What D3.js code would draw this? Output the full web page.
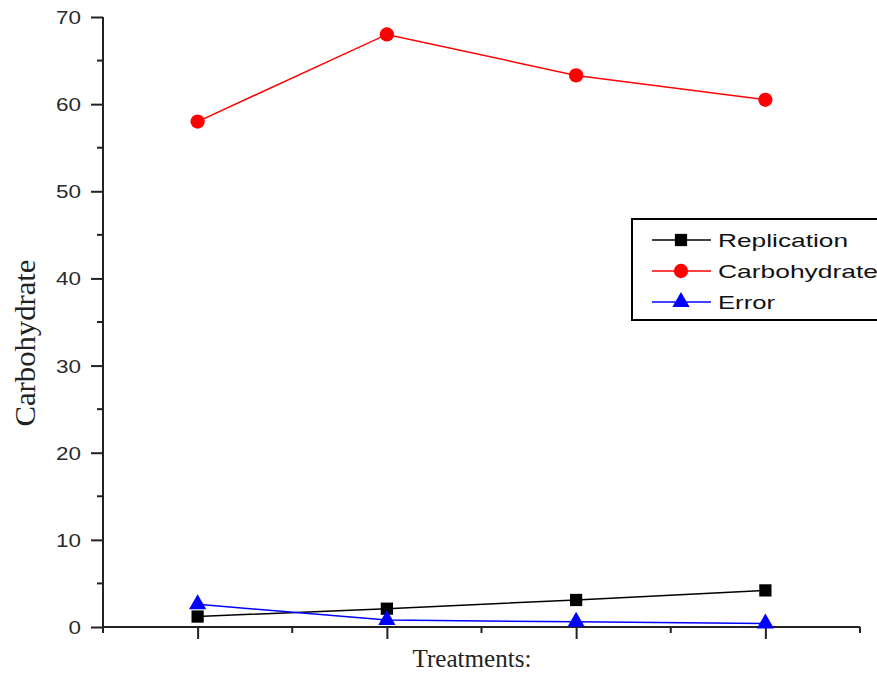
<!DOCTYPE html>
<html><head><meta charset="utf-8">
<script src="https://cdn.jsdelivr.net/npm/d3@7"></script>
<style>body{margin:0;background:#fff}svg{display:block}</style>
</head><body>
<script>
const categories = [1, 2, 3, 4];
const replication = [1.2, 2.1, 3.1, 4.2];
const carbohydrate = [58, 68, 63.3, 60.5];
const errorVals = [2.6, 0.8, 0.6, 0.4];
const yTicks = [0, 10, 20, 30, 40, 50, 60, 70];
const seriesNames = ["Replication", "Carbohydrate", "Error"];

const W = 877, H = 675;
const svg = d3.select("body").append("svg").attr("width", W).attr("height", H);
const x = d3.scaleLinear().domain([0.5, 4.5]).range([103, 860]);
const y = d3.scaleLinear().domain([0, 70]).range([627, 17]);

// axes
const yAxis = d3.axisLeft(y).tickValues(yTicks).tickSize(12).tickFormat(d3.format("d"));
const gy = svg.append("g").attr("transform", "translate(103,0)").call(yAxis);
gy.select(".domain").attr("d", `M0,${y(70)}V${y(0)}`).attr("stroke", "#222").attr("stroke-width", 2);
gy.selectAll(".tick line").attr("stroke", "#222").attr("stroke-width", 2);
gy.selectAll(".tick text").attr("font-family", "Liberation Sans, Arial, sans-serif").attr("font-size", 18)
  .attr("fill", "#2a2a2a").attr("x", -22).attr("dy", "0.36em")
  .attr("textLength", d => String(d).length * 12.5).attr("lengthAdjust", "spacingAndGlyphs");
const yMinor = d3.range(5, 70, 10);
gy.selectAll(".minor").data(yMinor).enter().append("line")
  .attr("x1", -6).attr("x2", 0).attr("y1", d => y(d)).attr("y2", d => y(d))
  .attr("stroke", "#222").attr("stroke-width", 2);

const xAxis = d3.axisBottom(x).tickValues(categories).tickSize(12).tickFormat("");
const gx = svg.append("g").attr("transform", "translate(0,627)").call(xAxis);
gx.select(".domain").attr("d", `M${x(0.5)},0H${x(4.5)}`).attr("stroke", "#222").attr("stroke-width", 2);
gx.selectAll(".tick line").attr("stroke", "#222").attr("stroke-width", 2);
const xMinor = [0.5, 1.5, 2.5, 3.5, 4.5];
gx.selectAll(".minor").data(xMinor).enter().append("line")
  .attr("x1", d => x(d)).attr("x2", d => x(d)).attr("y1", 0).attr("y2", 6)
  .attr("stroke", "#222").attr("stroke-width", 2);

// axis titles
svg.append("text").attr("transform", "translate(35,343) rotate(-90)").attr("text-anchor", "middle")
  .attr("font-family", "Liberation Serif, Times New Roman, serif").attr("font-size", 29).attr("fill", "#222")
  .attr("textLength", 167).attr("lengthAdjust", "spacingAndGlyphs")
  .text("Carbohydrate");
svg.append("text").attr("x", 472).attr("y", 667).attr("text-anchor", "middle")
  .attr("font-family", "Liberation Serif, Times New Roman, serif").attr("font-size", 25).attr("fill", "#222")
  .attr("textLength", 119).attr("lengthAdjust", "spacingAndGlyphs")
  .text("Treatments:");

const line = d3.line().x((d, i) => x(categories[i])).y(d => y(d));
const series = [
  {name: seriesNames[0], vals: replication, color: "#000", shape: d3.symbolSquare, size: 150, tl: 130},
  {name: seriesNames[1], vals: carbohydrate, color: "#ff0000", shape: d3.symbolCircle, size: 160, tl: 160},
  {name: seriesNames[2], vals: errorVals, color: "#0000ff", shape: d3.symbolTriangle, size: 130, tl: 57}
];
series.forEach(s => {
  svg.append("path").attr("d", line(s.vals)).attr("fill", "none").attr("stroke", s.color).attr("stroke-width", 1.5);
  svg.selectAll(null).data(s.vals).enter().append("path")
    .attr("d", d3.symbol().type(s.shape).size(s.size))
    .attr("transform", (d, i) => `translate(${x(categories[i])},${y(d)})`)
    .attr("fill", s.color);
});

// legend
const lg = svg.append("g");
lg.append("rect").attr("x", 632).attr("y", 219).attr("width", 246).attr("height", 101)
  .attr("fill", "#fff").attr("stroke", "#000").attr("stroke-width", 2);
series.forEach((s, i) => {
  const cy = 240 + i * 31;
  lg.append("line").attr("x1", 652).attr("x2", 711).attr("y1", cy).attr("y2", cy).attr("stroke", s.color).attr("stroke-width", 1.5);
  lg.append("path").attr("d", d3.symbol().type(s.shape).size(s.size)).attr("transform", `translate(681,${cy})`).attr("fill", s.color);
  lg.append("text").attr("x", 718).attr("y", cy + 7).attr("font-family", "Liberation Sans, Arial, sans-serif")
    .attr("font-size", 19).attr("fill", "#111")
    .attr("textLength", s.tl).attr("lengthAdjust", "spacingAndGlyphs").text(s.name);
});
</script>
</body></html>
